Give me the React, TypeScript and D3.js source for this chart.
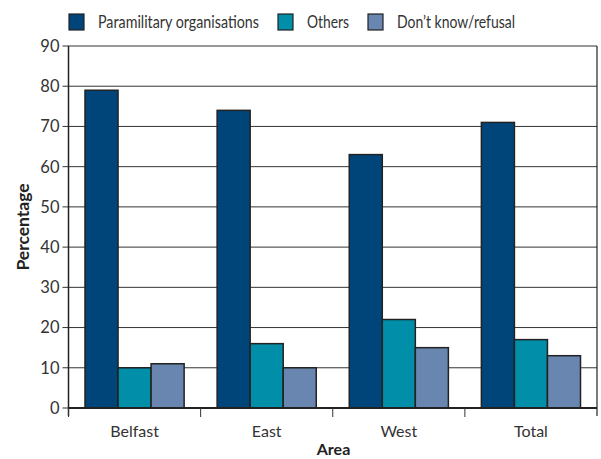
import React from "react";
import * as d3 from "d3";

const categories = ["Belfast", "East", "West", "Total"];
const seriesNames = ["Paramilitary organisations", "Others", "Don\u2019t know/refusal"];
const paramilitary = [79, 74, 63, 71];
const others = [10, 16, 22, 17];
const dontKnow = [11, 10, 15, 13];
const yTicks = [0, 10, 20, 30, 40, 50, 60, 70, 80, 90];
const colors = ["#00457a", "#008ea8", "#6886b0"];

export default function App() {
  const W = 601, H = 459;
  const left = 68.5, right = 597, top = 46, bottom = 408;
  const x = d3.scaleBand<string>().domain(categories).range([left, right]).padding(0);
  const inner = d3.scaleBand<number>().domain([0, 1, 2]).range([16.5, x.bandwidth() - 16.5]).padding(0);
  const y = d3.scaleLinear().domain([0, 90]).range([bottom, top]);
  const series = [paramilitary, others, dontKnow];
  const font = "Lato, 'Open Sans', sans-serif";
  const legendX = [69, 278, 368];
  const legendLen = [161, 42, 118];
  return (
    <svg width={W} height={H} style={{ position: "absolute", left: 0, top: 0, background: "#fff" }} fontFamily={font}>
      {yTicks.map((t) => (
        <g key={t}>
          <line x1={left - 6} x2={right} y1={y(t)} y2={y(t)} stroke="#333" strokeWidth={1} />
          <text x={left - 9} y={y(t)} dy="0.36em" textAnchor="end" fontSize={16.5} fill="#333">{t}</text>
        </g>
      ))}
      {categories.map((c, i) =>
        series.map((s, j) => (
          <rect key={c + j} x={x(c)! + inner(j)!} y={y(s[i])} width={inner.bandwidth()} height={y(0) - y(s[i])}
            fill={colors[j]} stroke="#222" strokeWidth={1.5} />
        ))
      )}
      <line x1={left} x2={left} y1={top} y2={bottom + 8} stroke="#222" strokeWidth={1.5} />
      <line x1={right} x2={right} y1={top} y2={bottom + 8} stroke="#222" strokeWidth={1.2} />
      <line x1={left} x2={right} y1={bottom} y2={bottom} stroke="#222" strokeWidth={2} />
      {categories.map((c) => (
        <g key={c}>
          <line x1={x(c)!} x2={x(c)!} y1={bottom} y2={bottom + 9} stroke="#333" strokeWidth={1} />
          <text x={x(c)! + x.bandwidth() / 2} y={437} textAnchor="middle" fontSize={16} fill="#333">{c}</text>
        </g>
      ))}
      <text x={333.5} y={455} textAnchor="middle" fontSize={16} fontWeight="bold" fill="#222">Area</text>
      <text transform={`translate(29,${(top + bottom) / 2}) rotate(-90)`} textAnchor="middle" fontSize={17.5} fontWeight="bold" fill="#222">Percentage</text>
      {seriesNames.map((n, j) => (
        <g key={n}>
          <rect x={legendX[j]} y={14} width={15} height={16} fill={colors[j]} stroke="#222" strokeWidth={1.2} />
          <text x={legendX[j] + 29} y={28} fontSize={17} fill="#333" textLength={legendLen[j]} lengthAdjust="spacingAndGlyphs">{n}</text>
        </g>
      ))}
    </svg>
  );
}
